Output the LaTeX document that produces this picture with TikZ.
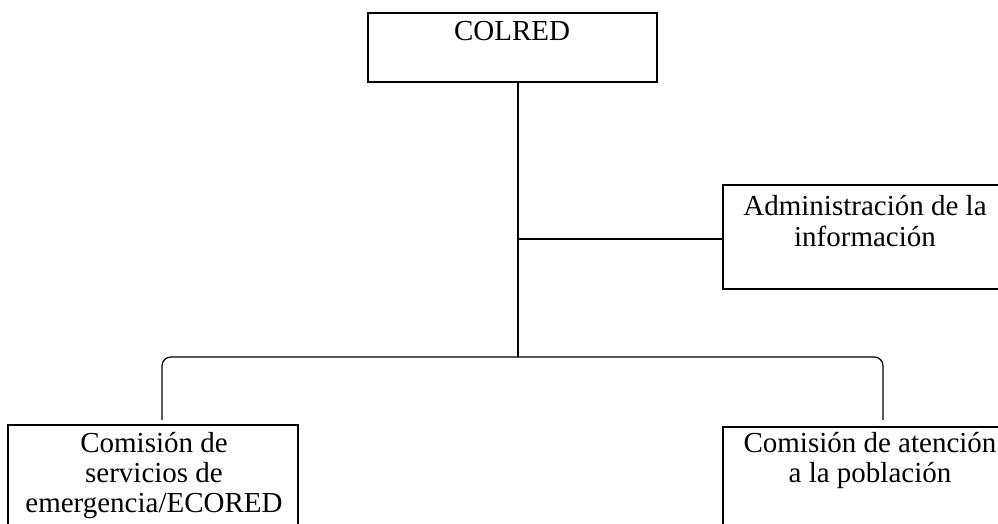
\documentclass[tikz,border=0pt]{standalone}
\usepackage{fontspec}
\setmainfont{Liberation Serif}
\usetikzlibrary{calc}
\tikzstyle{box}=[rectangle,draw=black,line width=0.7pt,inner sep=0pt]
\tikzstyle{txt}=[align=center,inner sep=0pt,anchor=base,
  font=\fontsize{16.5}{17.1}\selectfont]
\tikzstyle{none}=[]

\begin{document}
\begin{tikzpicture}[line width=0.7pt]
	\useasboundingbox (0, 0) rectangle (19.96, 10.48);
	\node [style=box, minimum width=5.78cm, minimum height=1.38cm] (0) at (10.25, 9.53) {};
	\node [style=txt] (1) at (10.24, 9.66) {COLRED};
	\node [style=box, minimum width=5.70cm, minimum height=2.08cm] (2) at (17.31, 5.74) {};
	\node [style=txt, font=\fontsize{16.5}{18.2}\selectfont] (3) at (17.30, 5.54) {Administración de la\\información};
	\node [style=box, minimum width=5.80cm, minimum height=2.30cm] (4) at (3.06, 0.83) {};
	\node [style=txt] (5) at (3.08, 0.22) {Comisión de\\servicios de\\emergencia/ECORED};
	\node [style=box, minimum width=5.88cm, minimum height=2.30cm] (6) at (17.40, 0.79) {};
	\node [style=txt] (7) at (17.40, 0.82) {Comisión de atención\\a la población};
	\node [style=none] (8) at (10.36, 8.84) {};
	\node [style=none] (9) at (10.36, 5.70) {};
	\node [style=none] (10) at (10.36, 3.34) {};
	\node [style=none] (11) at (3.24, 3.34) {};
	\node [style=none] (12) at (3.24, 2.08) {};
	\node [style=none] (13) at (17.66, 3.34) {};
	\node [style=none] (14) at (17.66, 2.08) {};
	\draw (8.center) to (10.center);
	\draw (9.center) to (9.center -| 2.west);
	\draw [rounded corners=5pt] (12.center) -- (11.center) -- (13.center) -- (14.center);
\end{tikzpicture}
\end{document}
